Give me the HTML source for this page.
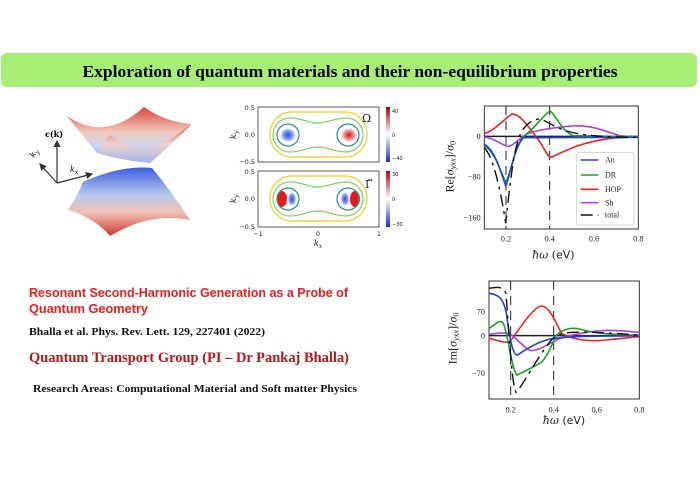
<!DOCTYPE html>
<html><head><meta charset="utf-8"><style>
html,body{margin:0;padding:0;background:#fff;}
svg{display:block;}
</style></head><body>
<svg width="700" height="500" viewBox="0 0 700 500" xmlns="http://www.w3.org/2000/svg">
<defs>
<linearGradient id="up" x1="0" y1="0" x2="0" y2="1">
<stop offset="0" stop-color="#d9443c"/><stop offset="0.45" stop-color="#f3c9bd"/><stop offset="0.7" stop-color="#c9d6f2"/><stop offset="1" stop-color="#6f8fe0"/></linearGradient>
<linearGradient id="up2" x1="0" y1="0" x2="0" y2="1">
<stop offset="0" stop-color="#d9443c"/><stop offset="0.5" stop-color="#f4d0c6"/><stop offset="1" stop-color="#a9bdf0"/></linearGradient>
<linearGradient id="lo" x1="0" y1="0" x2="0" y2="1">
<stop offset="0" stop-color="#3a5ee0"/><stop offset="0.4" stop-color="#b8c8ef"/><stop offset="0.65" stop-color="#f2c3b5"/><stop offset="1" stop-color="#cf3a34"/></linearGradient>
<radialGradient id="bb"><stop offset="0" stop-color="#2a4fe0"/><stop offset="0.6" stop-color="#8fa6ef"/><stop offset="1" stop-color="#fff" stop-opacity="0"/></radialGradient>
<radialGradient id="rb"><stop offset="0" stop-color="#e01515"/><stop offset="0.6" stop-color="#f09a9a"/><stop offset="1" stop-color="#fff" stop-opacity="0"/></radialGradient>
<linearGradient id="cb" x1="0" y1="0" x2="0" y2="1"><stop offset="0" stop-color="#b00000"/><stop offset="0.5" stop-color="#fff"/><stop offset="1" stop-color="#1530d0"/></linearGradient>
<marker id="ar" markerWidth="6" markerHeight="6" refX="5" refY="3" orient="auto"><path d="M0,0 L6,3 L0,6z" fill="#333"/></marker>
</defs>

<rect x="1" y="53" width="696" height="34" rx="6" fill="#a6ef74"/>
<text x="350" y="77" text-anchor="middle" font-family="Liberation Serif,serif" font-weight="bold" font-size="17" textLength="535" lengthAdjust="spacingAndGlyphs">Exploration of quantum materials and their non-equilibrium properties</text>

<!-- 3D surfaces -->
<path d="M67,116 Q105,142 144,107 Q165,122 192,124 Q165,150 150,163 Q120,160 97,153 Q82,135 67,116z" fill="url(#up)"/>
<path d="M110,135 Q130,152 158,146 Q176,136 192,124 Q165,150 150,163 Q120,160 97,153 Q103,142 110,135z" fill="url(#up2)" opacity="0.85"/>
<path d="M83,182 Q120,165 152,168 Q172,192 190,220 Q150,212 110,236 Q95,218 68,210 Q78,195 83,182z" fill="url(#lo)"/>
<line x1="57" y1="183" x2="57" y2="141" stroke="#333" stroke-width="1.2" marker-end="url(#ar)"/>
<line x1="57" y1="183" x2="92" y2="174" stroke="#333" stroke-width="1.2" marker-end="url(#ar)"/>
<line x1="57" y1="183" x2="40" y2="164" stroke="#333" stroke-width="1.2" marker-end="url(#ar)"/>
<text x="45" y="137" font-family="DejaVu Serif,serif" font-weight="bold" font-size="8">ϵ(k)</text>
<text x="70" y="172" font-family="DejaVu Serif,serif" font-style="italic" font-size="8">k<tspan font-size="6" dy="2">x</tspan></text>
<text x="0" y="0" transform="translate(34,158) rotate(-60)" font-family="DejaVu Serif,serif" font-style="italic" font-size="8">k<tspan font-size="6" dy="2">y</tspan></text>

<!-- contour plots -->
<g font-family="DejaVu Sans,sans-serif" font-size="6.5" fill="#222">
<rect x="258" y="107" width="121" height="55" fill="#fff" stroke="#333" stroke-width="0.8"/>
<rect x="270" y="112" width="97" height="45" rx="22" fill="none" stroke="#f0d540" stroke-width="1.4"/>
<path d="M290,118 C280,118 273,126 273,135 C273,144 280,152 290,152 C302,152 308,147 318,147 C328,147 334,152 346,152 C356,152 363,144 363,135 C363,126 356,118 346,118 C334,118 328,123 318,123 C308,123 302,118 290,118z" fill="none" stroke="#7fd060" stroke-width="1.2"/>
<ellipse cx="288" cy="135" rx="9" ry="8" fill="url(#bb)"/>
<ellipse cx="349" cy="135" rx="9" ry="8" fill="url(#rb)"/>
<circle cx="288" cy="135" r="11" fill="none" stroke="#2a8f8f" stroke-width="1.2"/>
<circle cx="348" cy="135" r="11" fill="none" stroke="#2a8f8f" stroke-width="1.2"/>
<text x="362" y="122" font-family="DejaVu Serif,serif" font-size="11">Ω</text>
<rect x="386" y="107" width="4" height="55" fill="url(#cb)"/>
<text x="392" y="113" font-size="5">40</text><text x="392" y="137" font-size="5">0</text><text x="392" y="160" font-size="5">−40</text>

<rect x="258" y="171" width="121" height="56" fill="#fff" stroke="#333" stroke-width="0.8"/>
<rect x="270" y="176" width="97" height="45" rx="22" fill="none" stroke="#f0d540" stroke-width="1.4"/>
<path d="M290,182 C280,182 273,190 273,199 C273,208 280,216 290,216 C302,216 308,211 318,211 C328,211 334,216 346,216 C356,216 363,208 363,199 C363,190 356,182 346,182 C334,182 328,187 318,187 C308,187 302,182 290,182z" fill="none" stroke="#7fd060" stroke-width="1.2"/>
<ellipse cx="282" cy="199" rx="5" ry="8" fill="#e51a1a"/>
<ellipse cx="292" cy="199" rx="5" ry="8" fill="url(#bb)"/>
<ellipse cx="345" cy="199" rx="5" ry="8" fill="url(#bb)"/>
<ellipse cx="355" cy="199" rx="5" ry="8" fill="#e51a1a"/>
<circle cx="288" cy="199" r="11" fill="none" stroke="#2a8f8f" stroke-width="1.2"/>
<circle cx="348" cy="199" r="11" fill="none" stroke="#2a8f8f" stroke-width="1.2"/>
<text x="365" y="188" font-family="DejaVu Serif,serif" font-size="11">Γ̃</text>
<rect x="386" y="171" width="4" height="56" fill="url(#cb)"/>
<text x="392" y="176" font-size="5">30</text><text x="392" y="201" font-size="5">0</text><text x="392" y="226" font-size="5">−30</text>

<text x="255" y="110" text-anchor="end">0.5</text><text x="255" y="137" text-anchor="end">0.0</text><text x="255" y="164" text-anchor="end">−0.5</text>
<text x="255" y="174" text-anchor="end">0.5</text><text x="255" y="201" text-anchor="end">0.0</text><text x="255" y="229" text-anchor="end">−0.5</text>
<text x="258" y="236" text-anchor="middle">−1</text><text x="318" y="236" text-anchor="middle">0</text><text x="379" y="236" text-anchor="middle">1</text>
<text x="318" y="246" text-anchor="middle" font-family="DejaVu Serif,serif" font-style="italic" font-size="8">k<tspan font-size="6" dy="2">x</tspan></text>
<text transform="translate(236,139) rotate(-90)" font-family="DejaVu Serif,serif" font-style="italic" font-size="8">k<tspan font-size="6" dy="2">y</tspan></text>
<text transform="translate(236,203) rotate(-90)" font-family="DejaVu Serif,serif" font-style="italic" font-size="8">k<tspan font-size="6" dy="2">y</tspan></text>
</g>

<!-- Re plot -->
<g transform="translate(440,95) scale(0.33333)" fill="none" stroke-width="2">
<rect x="133" y="33" width="462" height="369" stroke="#333" vector-effect="non-scaling-stroke" stroke-width="1"/>
<line x1="133" y1="124" x2="595" y2="124" stroke="#222" vector-effect="non-scaling-stroke" stroke-width="1.5"/>
<line x1="198" y1="33" x2="198" y2="402" stroke="#222" stroke-dasharray="9,6" vector-effect="non-scaling-stroke" stroke-width="1"/>
<line x1="329" y1="33" x2="329" y2="402" stroke="#222" stroke-dasharray="9,6" vector-effect="non-scaling-stroke" stroke-width="1"/>
<path d="M133,115 C160,110 190,75 215,57 C240,55 265,95 290,128 C310,150 320,185 333,187 C360,175 390,160 420,150 C470,135 520,125 595,127" stroke="#ee2222" vector-effect="non-scaling-stroke" stroke-width="1.6"/>
<path d="M133,126 C160,128 185,150 205,155 C225,150 240,125 265,115 C300,103 360,95 410,92 C460,92 500,110 540,122 L595,127" stroke="#b040e0" vector-effect="non-scaling-stroke" stroke-width="1.6"/>
<path d="M133,152 C165,170 182,230 197,262 C212,240 225,150 250,125 C285,100 310,60 330,48 C345,55 365,110 400,122 L595,125" stroke="#20a020" vector-effect="non-scaling-stroke" stroke-width="1.6"/>
<path d="M133,148 C165,165 182,230 197,272 C207,260 220,160 250,128 L595,127" stroke="#2040e0" vector-effect="non-scaling-stroke" stroke-width="1.6"/>
<path d="M133,158 C160,185 183,290 197,385 C207,300 220,150 245,110 C260,85 280,72 300,72 C320,78 340,95 380,108 C420,120 480,127 595,127" stroke="#111" stroke-dasharray="12,5,3,5" vector-effect="non-scaling-stroke" stroke-width="1.4"/>
<rect x="410" y="172" width="172" height="218" rx="6" fill="#fff" stroke="#ccc" vector-effect="non-scaling-stroke" stroke-width="0.8"/>
<line x1="422" y1="195" x2="475" y2="195" stroke="#2040e0" vector-effect="non-scaling-stroke" stroke-width="1.6"/>
<line x1="422" y1="240" x2="475" y2="240" stroke="#20a020" vector-effect="non-scaling-stroke" stroke-width="1.6"/>
<line x1="422" y1="283" x2="475" y2="283" stroke="#ee2222" vector-effect="non-scaling-stroke" stroke-width="1.6"/>
<line x1="422" y1="323" x2="475" y2="323" stroke="#b040e0" vector-effect="non-scaling-stroke" stroke-width="1.6"/>
<line x1="422" y1="360" x2="475" y2="360" stroke="#111" stroke-dasharray="12,5,3,5" vector-effect="non-scaling-stroke" stroke-width="1.4"/>
<g fill="#222" stroke="none" font-family="Liberation Serif,serif" font-size="24">
<text x="495" y="203">An</text><text x="495" y="248">DR</text><text x="495" y="291">HOP</text><text x="495" y="331">Sh</text><text x="495" y="368">total</text>
</g>
<g fill="#222" stroke="none" font-family="Liberation Serif,serif" font-size="25">
<text x="122" y="132" text-anchor="end">0</text><text x="122" y="253" text-anchor="end">−80</text><text x="122" y="376" text-anchor="end">−160</text>
<text x="198" y="440" text-anchor="middle">0.2</text><text x="329" y="440" text-anchor="middle">0.4</text><text x="462" y="440" text-anchor="middle">0.6</text><text x="595" y="440" text-anchor="middle">0.8</text>
<text x="340" y="490" text-anchor="middle" font-family="DejaVu Sans,sans-serif" font-size="33"><tspan font-family="DejaVu Serif,serif" font-style="italic">ħω</tspan> (eV)</text>
<text transform="translate(40,215) rotate(-90)" text-anchor="middle" font-size="36">Re[<tspan font-style="italic">σ<tspan font-size="25" dy="6">yxx</tspan></tspan><tspan dy="-6">]/</tspan><tspan font-style="italic">σ</tspan><tspan font-size="25" dy="6">0</tspan></text>
</g>
</g>

<!-- Im plot -->
<g transform="translate(440,275) scale(0.33333)" fill="none">
<rect x="147" y="18" width="451" height="354" stroke="#333" vector-effect="non-scaling-stroke" stroke-width="1"/>
<line x1="147" y1="182" x2="598" y2="182" stroke="#222" vector-effect="non-scaling-stroke" stroke-width="1.5"/>
<line x1="212" y1="18" x2="212" y2="372" stroke="#222" stroke-dasharray="9,6" vector-effect="non-scaling-stroke" stroke-width="1"/>
<line x1="341" y1="18" x2="341" y2="372" stroke="#222" stroke-dasharray="9,6" vector-effect="non-scaling-stroke" stroke-width="1"/>
<path d="M147,190 C170,195 190,205 210,200 C240,160 280,95 305,93 C330,95 345,140 365,175 C400,195 450,200 500,195 C540,190 570,188 598,185" stroke="#ee2222" vector-effect="non-scaling-stroke" stroke-width="1.6"/>
<path d="M147,178 C170,175 195,170 212,178 C240,200 260,225 275,227 C300,225 330,205 360,190 C400,178 450,168 500,166 C540,166 570,170 598,172" stroke="#b040e0" vector-effect="non-scaling-stroke" stroke-width="1.6"/>
<path d="M147,160 C165,150 180,130 190,145 C205,180 212,270 230,300 C245,295 270,280 300,265 C320,250 335,210 350,180 C370,160 400,155 430,165 C480,178 540,180 598,180" stroke="#20a020" vector-effect="non-scaling-stroke" stroke-width="1.6"/>
<path d="M147,55 C175,60 190,65 200,120 C210,200 220,240 232,240 C250,230 280,205 330,192 C400,182 500,183 598,183" stroke="#2040e0" vector-effect="non-scaling-stroke" stroke-width="1.6"/>
<path d="M147,40 C170,38 185,30 198,55 C205,150 215,330 228,352 C250,330 290,250 330,200 C345,180 360,175 400,172 C450,170 520,175 598,180" stroke="#111" stroke-dasharray="12,5,3,5" vector-effect="non-scaling-stroke" stroke-width="1.4"/>
<g fill="#222" stroke="none" font-family="Liberation Serif,serif" font-size="25">
<text x="135" y="118" text-anchor="end">70</text><text x="135" y="190" text-anchor="end">0</text><text x="135" y="303" text-anchor="end">−70</text>
<text x="212" y="412" text-anchor="middle">0.2</text><text x="341" y="412" text-anchor="middle">0.4</text><text x="470" y="412" text-anchor="middle">0.6</text><text x="598" y="412" text-anchor="middle">0.8</text>
<text x="372" y="447" text-anchor="middle" font-family="DejaVu Sans,sans-serif" font-size="33"><tspan font-family="DejaVu Serif,serif" font-style="italic">ħω</tspan> (eV)</text>
<text transform="translate(50,190) rotate(-90)" text-anchor="middle" font-size="36">Im[<tspan font-style="italic">σ<tspan font-size="25" dy="6">yxx</tspan></tspan><tspan dy="-6">]/</tspan><tspan font-style="italic">σ</tspan><tspan font-size="25" dy="6">0</tspan></text>
</g>
</g>

<!-- text block -->
<g font-weight="bold">
<text x="29" y="297" fill="#ee1c1c" font-family="Liberation Sans,sans-serif" font-size="12.5" textLength="319" lengthAdjust="spacingAndGlyphs">Resonant Second-Harmonic Generation as a Probe of</text>
<text x="29" y="313" fill="#ee1c1c" font-family="Liberation Sans,sans-serif" font-size="12.5" textLength="119" lengthAdjust="spacingAndGlyphs">Quantum Geometry</text>
<text x="29" y="335" fill="#111" font-family="Liberation Serif,serif" font-size="10.5" textLength="236" lengthAdjust="spacingAndGlyphs">Bhalla et al. Phys. Rev. Lett. 129, 227401 (2022)</text>
<text x="29" y="362" fill="#b01818" font-family="Liberation Serif,serif" font-size="15" textLength="320" lengthAdjust="spacingAndGlyphs">Quantum Transport Group (PI – Dr Pankaj Bhalla)</text>
<text x="33" y="392" fill="#111" font-family="Liberation Serif,serif" font-size="10.5" textLength="324" lengthAdjust="spacingAndGlyphs">Research Areas: Computational Material and Soft matter Physics</text>
</g>
</svg>
</body></html>
